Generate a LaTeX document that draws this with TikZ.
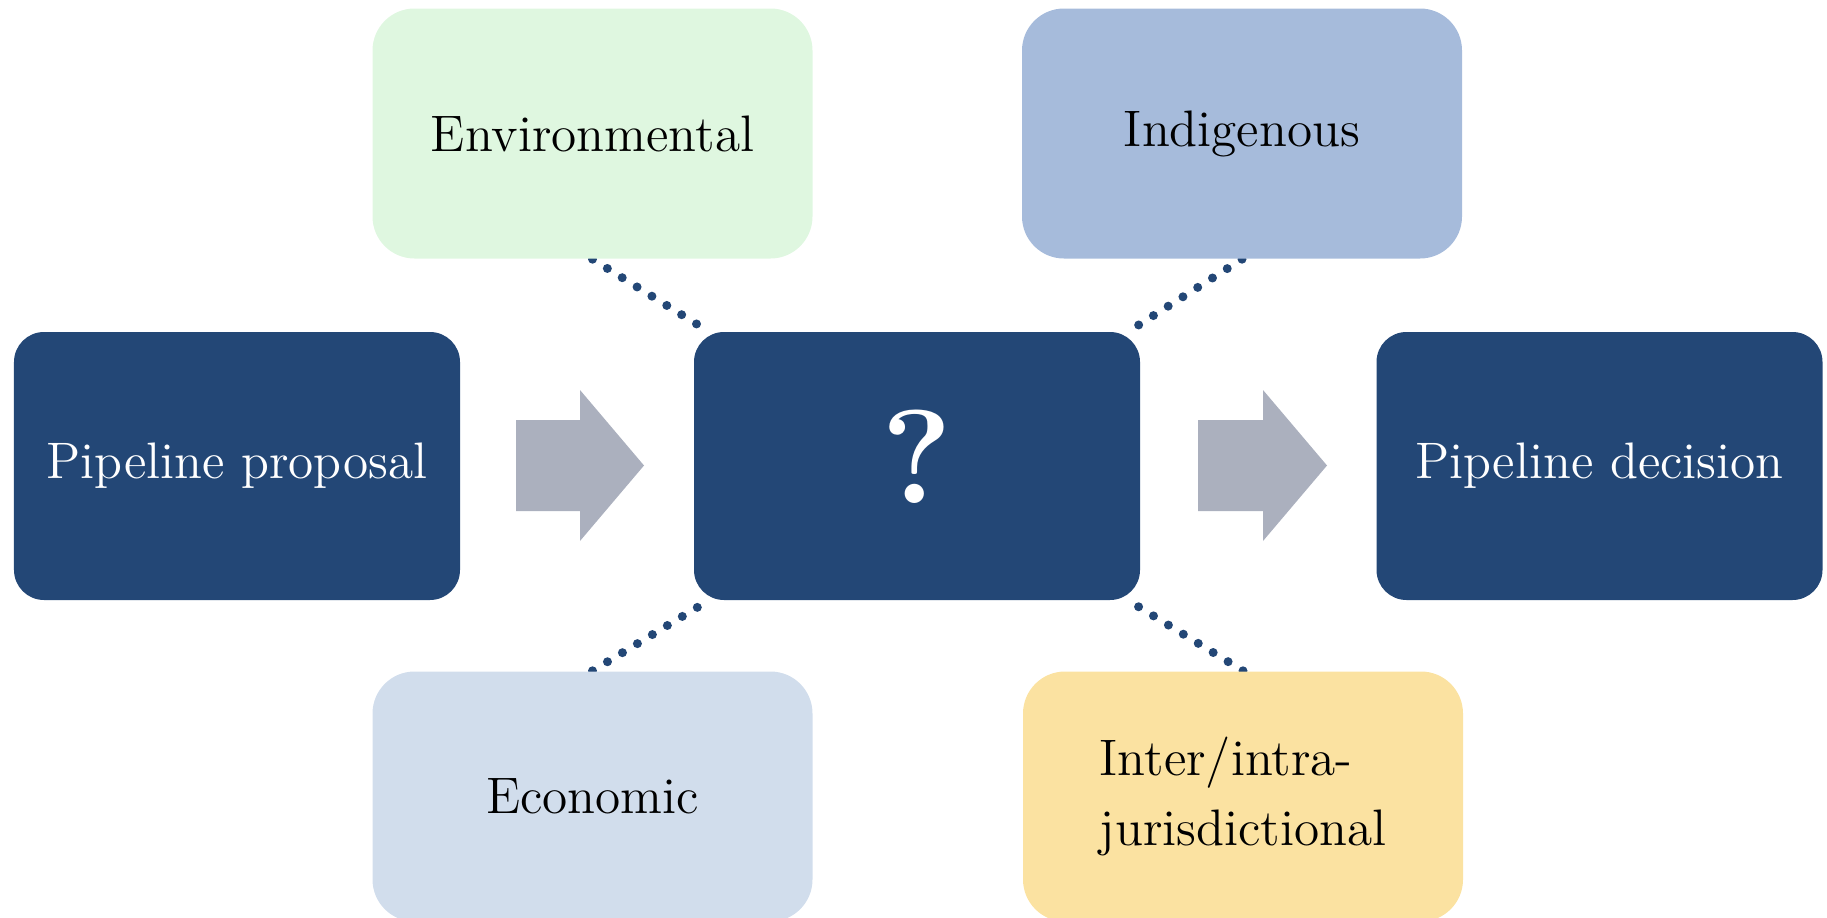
\documentclass[tikz,border=0pt]{standalone}
\usepackage{fontspec}
\usetikzlibrary{backgrounds}

\definecolor{pipeblue}{HTML}{234776}
\definecolor{arrowgrey}{HTML}{ABB0BE}
\definecolor{envgreen}{HTML}{DFF7E0}
\definecolor{indblue}{HTML}{A6BBDB}
\definecolor{ecoblue}{HTML}{D1DDEC}
\definecolor{jurgold}{HTML}{FBE2A1}

\tikzset{
  darkbox/.style={fill=pipeblue, text=white, rounded corners=0.3cm,
    minimum width=4.46cm, minimum height=2.68cm,
    font=\fontsize{14.6}{20}\selectfont},
  lightbox/.style={text=black, rounded corners=0.42cm,
    minimum width=4.40cm, minimum height=2.50cm,
    font=\fontsize{14.6}{20}\selectfont},
  blockarrow/.style={fill=arrowgrey},
  dotline/.style={pipeblue, line width=0.09cm, line cap=round,
    dash pattern=on 0pt off 0.175cm}
}

\begin{document}
\begin{tikzpicture}
\useasboundingbox (0,0) rectangle (18.27,-9.18);

% main row
\node[darkbox] (prop) at (2.37,-4.66) {Pipeline proposal};
\node[darkbox, font=\bfseries\fontsize{38}{38}\selectfont, text depth=0.18cm] (mid) at (9.17,-4.66) {?};
\node[darkbox] (dec) at (15.995,-4.66) {Pipeline decision};

% factors
\node[lightbox, fill=envgreen] (env) at (5.925,-1.335) {Environmental};
\node[lightbox, fill=indblue] (ind) at (12.42,-1.335) {Indigenous};
\node[lightbox, fill=ecoblue] (eco) at (5.925,-7.965) {Economic};
\node[lightbox, fill=jurgold, align=left] (jur) at (12.43,-7.965) {Inter/intra-\\jurisdictional};

% grey arrows
\fill[blockarrow] (5.16,-4.20) -- (5.80,-4.20) -- (5.80,-3.90) -- (6.44,-4.655)
  -- (5.80,-5.41) -- (5.80,-5.11) -- (5.16,-5.11) -- cycle;
\fill[blockarrow] (11.98,-4.20) -- (12.63,-4.20) -- (12.63,-3.90) -- (13.27,-4.655)
  -- (12.63,-5.41) -- (12.63,-5.11) -- (11.98,-5.11) -- cycle;

% dotted links
\begin{scope}[on background layer]
\draw[dotline] (env.south) -- ([xshift=0.15cm]mid.north west);
\draw[dotline] (ind.south) -- ([xshift=-0.12cm]mid.north east);
\draw[dotline] (eco.north) -- ([xshift=0.15cm]mid.south west);
\draw[dotline] (jur.north) -- ([xshift=-0.12cm]mid.south east);
\end{scope}
\end{tikzpicture}
\end{document}
